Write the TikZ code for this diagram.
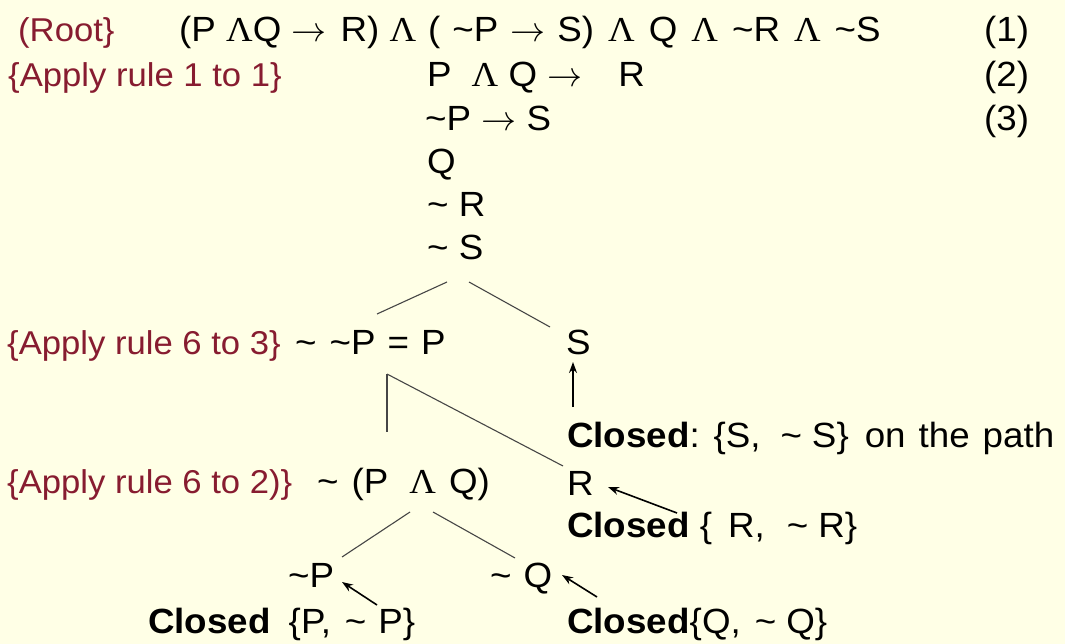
\documentclass[tikz,border=0pt]{standalone}
\usepackage{fix-cm}
\usepackage{fontspec}
\setmainfont{Liberation Sans}[FakeStretch=1.05]
\newfontfamily\lamfont{Liberation Serif}[FakeStretch=1.05]
\usetikzlibrary{calc,arrows.meta}
\definecolor{bgyellow}{RGB}{255,255,230}
\definecolor{rulered}{RGB}{135,28,48}
\definecolor{treegray}{RGB}{70,70,70}
\newcommand\lam{{\lamfont Λ}}
\newcommand\tild{\textasciitilde}
\newcommand\arr{\ensuremath{\rightarrow}}
\newcommand\gap[1]{\hspace{#1pt}}
\begin{document}
\begin{tikzpicture}[x=1pt,y=-1pt,
  txt/.style={inner sep=0pt, anchor=base west, font=\fontsize{35}{40}\selectfont},
  note/.style={inner sep=0pt, anchor=base west, font=\fontsize{33}{40}\selectfont, text=rulered},
  treeline/.style={draw=treegray, line width=1.1pt},
  ptr/.style={draw=black, line width=1.6pt, -{Stealth[length=11pt,width=8pt]}}]
\fill[bgyellow] (0,0) rectangle (1065,644);
\useasboundingbox (0,0) rectangle (1065,644);

% left annotations
\node[note] (root) at (18,42) {(Root\}};
\node[note] (ap1) at (8,87) {\{Apply rule 1 to 1\}};
\node[note] (ap3) at (7,354) {\{Apply rule 6 to 3\}};
\node[note] (ap2) at (7,493) {\{Apply rule 6 to 2)\}};

% formulas
\node[txt] (f1) at (179,42) {(P \lam Q \arr\gap{14}R) \lam\gap{12}(\gap{12}\tild P\gap{12}\arr\gap{12}S)\gap{14}\lam\gap{14}Q\gap{14}\lam\gap{14}\tild R\gap{14}\lam\gap{14}\tild S};
\node[txt] (n1) at (984,42) {(1)};
\node[txt] (f2) at (427,87) {P\gap{20}\lam\ Q \arr\gap{36}R};
\node[txt] (n2) at (984,87) {(2)};
\node[txt] (f3) at (425,131) {\tild P \arr\ S};
\node[txt] (n3) at (984,131) {(3)};
\node[txt] (f4) at (427,174) {Q};
\node[txt] (f5) at (427,217) {\tild\ R};
\node[txt] (nS) at (427,260) {\tild\ S};

% level 2
\node[txt] (nPP) at (295,354) {\tild\gap{13}\tild P\gap{12}=\gap{12}P};
\node[txt] (Sr) at (566,354) {S};
\node[txt] (cS) at (567,447) {\textbf{Closed}: \{S,\gap{20}\tild\gap{10}S\}\gap{16}on\gap{13}the\gap{13}path};

% level 3
\node[txt] (nPQ) at (317,493) {\tild\gap{13}(P\gap{21}\lam\gap{13}Q)};
\node[txt] (R) at (567,495) {R};
\node[txt] (cR) at (567,537) {\textbf{Closed} \{\gap{16}R,\gap{22}\tild\gap{10}R\}};

% level 4
\node[txt] (nP) at (288,587) {\tild P};
\node[txt] (nQ) at (490,587) {\tild\gap{12}Q};
\node[txt] (cP) at (148,633) {\textbf{Closed}\gap{18}\{P,\gap{14}\tild\gap{12}P\}};
\node[txt] (cQ) at (567,633) {\textbf{Closed}\{Q,\gap{14}\tild\gap{10}Q\}};

% tree lines
\draw[treeline] ($(nS.base west)+(20,22)$) -- ($(nPP.base west)+(82,-40)$);
\draw[treeline] ($(nS.base west)+(42,22)$) -- ($(Sr.base west)+(-16,-27)$);
\draw[treeline] ($(nPP.base west)+(92,20)$) -- ($(nPQ.base west)+(70,-61)$);
\draw[treeline] ($(nPP.base west)+(92,20)$) -- ($(R.base west)+(-4,-29)$);
\draw[treeline] ($(nPQ.base west)+(93,19)$) -- ($(nP.base west)+(54,-30)$);
\draw[treeline] ($(nPQ.base west)+(116,19)$) -- ($(nQ.base west)+(25,-29)$);

% pointer arrows
\draw[ptr] ($(cS.base west)+(6,-40)$) -- ($(Sr.base west)+(7,8)$);
\draw[ptr] ($(cR.base west)+(110,-24)$) -- ($(R.base west)+(41,-8)$);
\draw[ptr] ($(cP.base west)+(229,-28)$) -- ($(nP.base west)+(54,-5)$);
\draw[ptr] ($(cQ.base west)+(30,-36)$) -- ($(nQ.base west)+(72,-12)$);
\end{tikzpicture}
\end{document}
